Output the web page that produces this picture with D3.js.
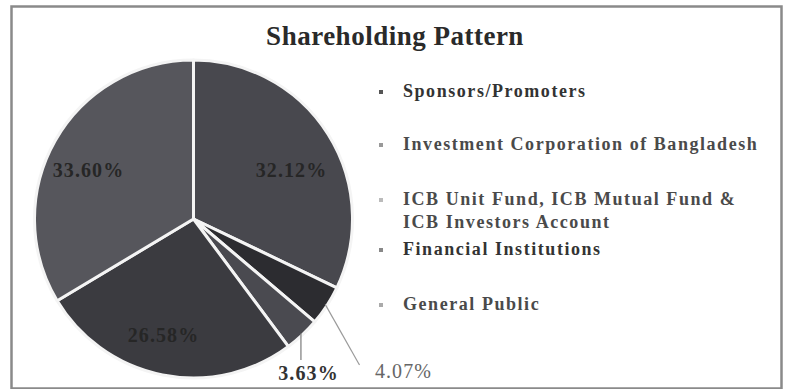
<!DOCTYPE html>
<html>
<head>
<meta charset="utf-8">
<script src="https://cdn.jsdelivr.net/npm/d3@7"></script>
<style>
  html, body { margin: 0; padding: 0; background: #fff; }
  svg { display: block; }
</style>
</head>
<body>
<svg id="chart" width="787" height="389"></svg>
<script>
// Shareholding breakdown, in percent
const categories = [
  "Sponsors/Promoters",
  "Investment Corporation of Bangladesh",
  "ICB Unit Fund, ICB Mutual Fund & ICB Investors Account",
  "Financial Institutions",
  "General Public"
];
const shares = [32.12, 4.07, 3.63, 26.58, 33.60];
const shareLabels = ["32.12%", "4.07%", "3.63%", "26.58%", "33.60%"];
const legendLines = [
  ["Sponsors/Promoters"],
  ["Investment Corporation of Bangladesh"],
  ["ICB Unit Fund, ICB Mutual Fund &", "ICB Investors Account"],
  ["Financial Institutions"],
  ["General Public"]
];
const sliceColors = ["#48484e", "#2c2c30", "#4a4a50", "#3b3b40", "#56565c"];
const markerColors = ["#555", "#999", "#bbb", "#888", "#aaa"];

const svg = d3.select("#chart");
const serif = "Liberation Serif, Times New Roman, serif";

// frame
svg.append("rect")
  .attr("x", 11.5).attr("y", 6.5)
  .attr("width", 770).attr("height", 382)
  .attr("fill", "#fff")
  .attr("stroke", "#8a8a8a")
  .attr("stroke-width", 2.5);

// title
svg.append("text")
  .attr("x", 395).attr("y", 45)
  .attr("text-anchor", "middle")
  .attr("font-family", serif)
  .attr("font-weight", "bold")
  .attr("font-size", 27)
  .attr("letter-spacing", 0.5)
  .attr("fill", "#2a2a2a")
  .text("Shareholding Pattern");

// pie
const cx = 193.5, cy = 219, R = 159;
const pie = d3.pie().sort(null).value(d => d);
const arcs = pie(shares);
const arc = d3.arc().innerRadius(0).outerRadius(R);

const g = svg.append("g").attr("transform", `translate(${cx},${cy})`);
g.selectAll("path.slice")
  .data(arcs)
  .join("path")
  .attr("class", "slice")
  .attr("d", arc)
  .attr("fill", (d, i) => sliceColors[i])
  .attr("stroke", "#f4f4f4")
  .attr("stroke-width", 3)
  .attr("stroke-linejoin", "round");

// value labels inside the three large slices
const insidePos = {
  0: [98, -47],
  3: [-30, 118],
  4: [-105, -47]
};
Object.keys(insidePos).forEach(k => {
  const i = +k;
  g.append("text")
    .attr("x", insidePos[i][0]).attr("y", insidePos[i][1])
    .attr("text-anchor", "middle")
    .attr("dominant-baseline", "middle")
    .attr("font-family", serif)
    .attr("font-size", 20)
    .attr("font-weight", "bold")
    .attr("letter-spacing", 1.1)
    .attr("fill", "#262626")
    .text(shareLabels[i]);
});

// small slices: labels below the pie with leader lines from the rim
const rimArc = d3.arc().innerRadius(R - 2).outerRadius(R - 2);
const leaders = [
  {i: 1, end: (p) => [166, 146], text: [210, 159], color: "#9a9a9a", fill: "#666", weight: "normal"},
  {i: 2, end: (p) => [p[0], 141], text: [115, 161], color: "#7a7a7a", fill: "#333", weight: "bold"}
];
leaders.forEach(l => {
  const p = rimArc.centroid(arcs[l.i]);
  const e = l.end(p);
  g.append("line")
    .attr("x1", p[0]).attr("y1", p[1])
    .attr("x2", e[0]).attr("y2", e[1])
    .attr("stroke", l.color).attr("stroke-width", 1.2);
  g.append("text")
    .attr("x", l.text[0]).attr("y", l.text[1])
    .attr("text-anchor", "middle")
    .attr("font-family", serif)
    .attr("font-size", 20)
    .attr("letter-spacing", 1.1)
    .attr("fill", l.fill)
    .attr("font-weight", l.weight)
    .text(shareLabels[l.i]);
});

// legend
const legendBaselines = [97, 150, 205, 255, 310];
const lg = svg.append("g");
legendLines.forEach((lines, i) => {
  const y = legendBaselines[i];
  lg.append("rect")
    .attr("x", 379).attr("y", y - 7)
    .attr("width", 4).attr("height", 4)
    .attr("fill", markerColors[i]);
  lines.forEach((t, j) => {
    lg.append("text")
      .attr("x", 403).attr("y", y + j * 23)
      .attr("font-family", serif)
      .attr("font-size", 18)
      .attr("font-weight", "bold")
      .attr("letter-spacing", 1.55)
      .attr("fill", i === 0 || i === 3 ? "#333" : "#4a4a4a")
      .text(t);
  });
});
</script>
</body>
</html>
